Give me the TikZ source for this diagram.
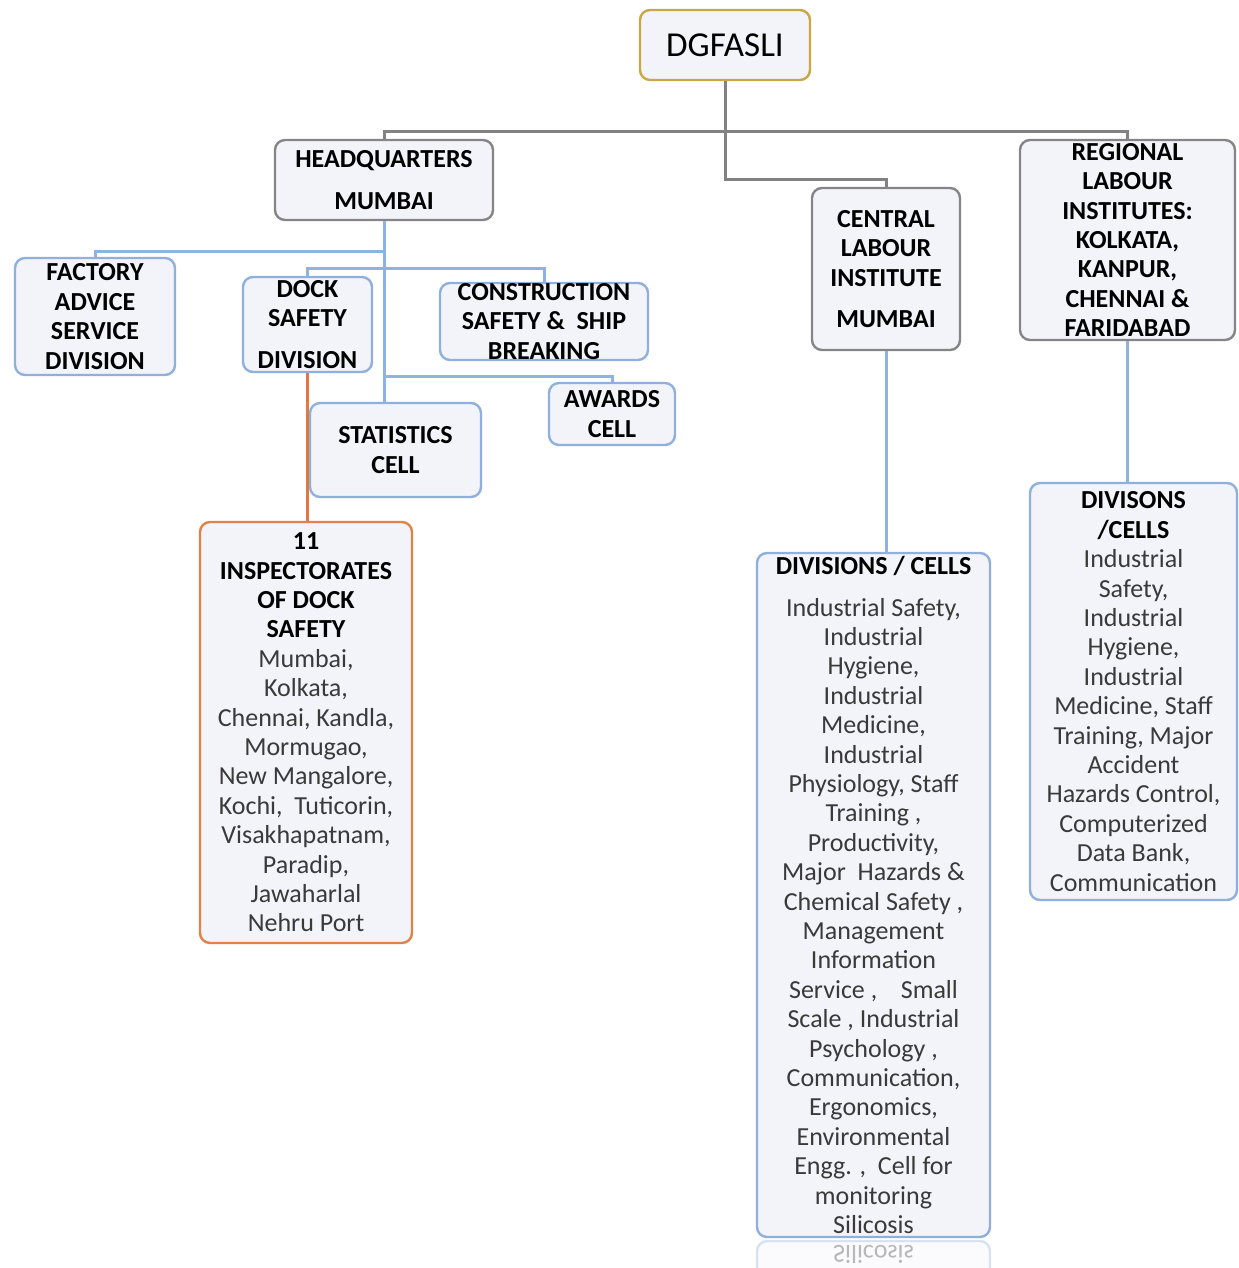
\documentclass[tikz,border=0pt]{standalone}
\usepackage{fontspec}
\setmainfont{Carlito}
\usepackage{graphicx}
\definecolor{boxgray}{HTML}{858585}
\definecolor{boxgold}{HTML}{C9A646}
\definecolor{boxblue}{HTML}{8FB0DC}
\definecolor{boxorange}{HTML}{E0824A}
\definecolor{boxfill}{HTML}{F3F3FA}
\definecolor{linegray}{HTML}{828282}
\definecolor{lineblue}{HTML}{8DB3E2}
\definecolor{lineorange}{HTML}{E07A3C}
\definecolor{bodytext}{HTML}{3A3A3A}
\newcommand{\hdline}[1]{\textcolor{black}{\bfseries #1}}
\begin{document}
\begin{tikzpicture}[x=0.5pt,y=-0.5pt,
  box/.style={draw=boxgray,fill=boxfill,rounded corners=5pt,line width=1.2pt,
    align=center,inner sep=0pt,text=black,font=\fontsize{13}{14.7}\selectfont\bfseries},
  bluebox/.style={box,draw=boxblue},
  listbox/.style={box,font=\fontsize{13}{14.7}\selectfont,text=bodytext},
  grayline/.style={draw=linegray,line width=1.5pt},
  blueline/.style={draw=lineblue,line width=1.5pt},
  orangeline/.style={draw=lineorange,line width=1.5pt}]
\useasboundingbox (0,0) rectangle (1238,1268);
\node[box,draw=boxgold,font=\fontsize{17.5}{21}\selectfont,minimum width=85pt,minimum height=35pt] (top) at (725,45) {DGFASLI};
\node[box,minimum width=109pt,minimum height=40pt] (hq) at (384,180) {HEADQUARTERS\\[6pt]MUMBAI};
\node[box,minimum width=74pt,minimum height=81pt] (cli) at (886,269) {CENTRAL\\LABOUR\\INSTITUTE\\[6pt]MUMBAI};
\node[box,minimum width=107.5pt,minimum height=100pt] (rli) at (1127.5,240) {REGIONAL\\LABOUR\\INSTITUTES:\\KOLKATA,\\KANPUR,\\CHENNAI \&\\FARIDABAD};
\node[bluebox,minimum width=80pt,minimum height=58.5pt] (fasd) at (95,316.5) {FACTORY\\ADVICE\\SERVICE\\DIVISION};
\node[bluebox,minimum width=64.5pt,minimum height=47.5pt] (dock) at (307.5,324.5) {DOCK\\SAFETY\\[6pt]DIVISION};
\node[bluebox,minimum width=104pt,minimum height=38.5pt] (csb) at (544,321.5) {CONSTRUCTION\\SAFETY \&~ SHIP\\BREAKING};
\node[bluebox,minimum width=63pt,minimum height=31pt] (awards) at (612,414) {AWARDS\\CELL};
\node[bluebox,minimum width=85.5pt,minimum height=47pt] (stats) at (395.5,450) {STATISTICS\\CELL};
\node[listbox,draw=boxorange,minimum width=106pt,minimum height=210.5pt] (idsa) at (306,732.5)
  {\hdline{11}\\\hdline{INSPECTORATES}\\\hdline{OF DOCK}\\\hdline{SAFETY}\\Mumbai,\\Kolkata,\\Chennai, Kandla,\\Mormugao,\\New Mangalore,\\Kochi,~ Tuticorin,\\Visakhapatnam,\\Paradip,\\Jawaharlal\\Nehru Port};
\node[listbox,draw=boxblue,minimum width=116.5pt,minimum height=342pt] (clidiv) at (873.5,895)
  {\hdline{DIVISIONS / CELLS}\\[6pt]Industrial Safety,\\Industrial\\Hygiene,\\Industrial\\Medicine,\\Industrial\\Physiology, Staff\\Training ,\\Productivity,\\Major~ Hazards \&\\Chemical Safety ,\\Management\\Information\\Service ,~~~ Small\\Scale , Industrial\\Psychology ,\\Communication,\\Ergonomics,\\Environmental\\Engg. ,~ Cell for\\monitoring\\Silicosis};
\node[listbox,draw=boxblue,minimum width=103.5pt,minimum height=208.5pt] (rlidiv) at (1133.5,691.5)
  {\hdline{DIVISONS}\\\hdline{/CELLS}\\Industrial\\Safety,\\Industrial\\Hygiene,\\Industrial\\Medicine, Staff\\Training, Major\\Accident\\Hazards Control,\\Computerized\\Data Bank,\\Communication};
\begin{scope}[opacity=0.35]
\draw[draw=boxblue,fill=boxfill,line width=1.2pt,rounded corners=5pt] (757,1300) -- (757,1241) -- (990,1241) -- (990,1300);
\node[font=\fontsize{13}{14.7}\selectfont,text=bodytext] (mirror) at (873.5,1254) {\scalebox{1}[-1]{Silicosis}};
\end{scope}
\draw[grayline] (top.south) -- ++(0,50) coordinate (gj);
\draw[grayline] (gj) -| (hq.north);
\draw[grayline] (gj) -| (rli.north);
\draw[grayline] (gj) -- ++(0,48) -| (cli.north);
\draw[blueline] (hq.south) -- (hq.south |- stats.north);
\draw[blueline] (hq.south) ++(0,30) -| (fasd.north);
\draw[blueline] (dock.north) -- ++(0,-7) -| (csb.north);
\draw[blueline] (hq.south |- 0,376) -| (awards.north);
\draw[orangeline] (dock.south) -- (dock.south |- idsa.north);
\draw[blueline] (cli.south) -- (cli.south |- clidiv.north);
\draw[blueline] (rli.south) -- (rli.south |- rlidiv.north);
\end{tikzpicture}
\end{document}
